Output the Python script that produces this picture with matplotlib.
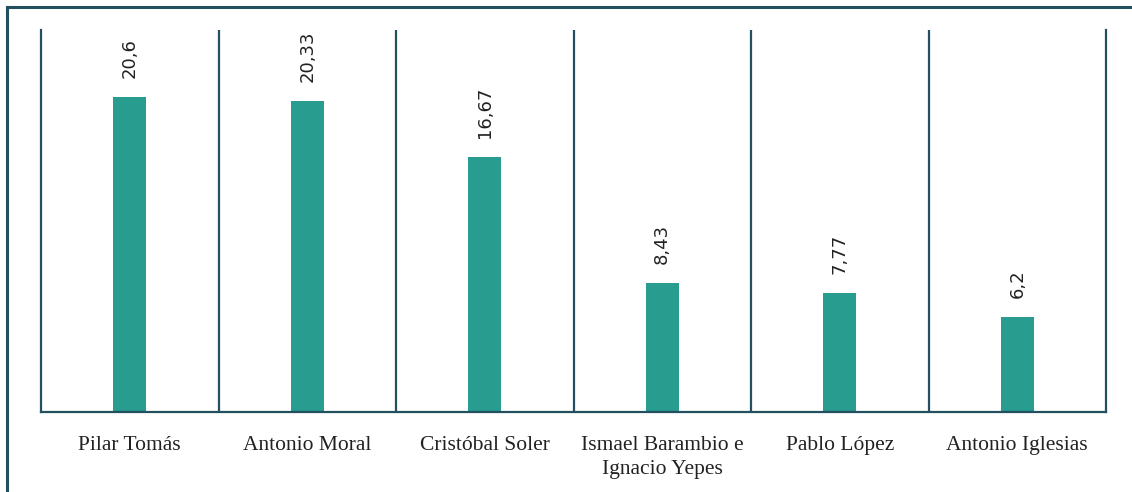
import matplotlib
matplotlib.use("Agg")
import matplotlib.pyplot as plt
from matplotlib.lines import Line2D

categories = ["Pilar Tomás", "Antonio Moral", "Cristóbal Soler",
              "Ismael Barambio e\nIgnacio Yepes", "Pablo López", "Antonio Iglesias"]
values = [20.6, 20.33, 16.67, 8.43, 7.77, 6.2]
labels = ["20,6", "20,33", "16,67", "8,43", "7,77", "6,2"]

bar_color = "#279C8F"
line_color = "#22505E"

fig = plt.figure(figsize=(11.32, 4.92), dpi=100)
ax = fig.add_axes([41/1132, 80/492, (1106-41)/1132, (412-30)/492])

x = list(range(len(categories)))
ax.bar(x, values, width=0.186, color=bar_color, zorder=2)
ax.set_xlim(-0.5, len(categories) - 0.5)
ax.set_ylim(0, 25)

for xi, v, lab in zip(x, values, labels):
    ax.annotate(lab, (xi, v), xytext=(0, 19), textcoords="offset pixels",
                rotation=90, ha="center", va="bottom", fontsize=13,
                color="#222222", family="DejaVu Sans")

for b in range(1, len(categories)):
    ax.axvline(b - 0.5, color=line_color, lw=1.6, zorder=1)

for s in ["left", "right", "bottom"]:
    ax.spines[s].set_color(line_color)
    ax.spines[s].set_linewidth(1.6)
ax.spines["top"].set_visible(False)

ax.set_yticks([])
ax.set_xticks(x)
ax.set_xticklabels(categories, fontsize=15.5, color="#222222",
                   family="Liberation Serif", linespacing=1.4)
ax.tick_params(axis="x", length=0, pad=17)

# outer frame
fig.add_artist(Line2D([7/1132, 1.0], [1 - 7/492, 1 - 7/492], transform=fig.transFigure,
                      color=line_color, lw=2.2))
fig.add_artist(Line2D([7/1132, 7/1132], [0, 1 - 7/492], transform=fig.transFigure,
                      color=line_color, lw=2.2))

fig.savefig("out.png", dpi=100, facecolor="white")
